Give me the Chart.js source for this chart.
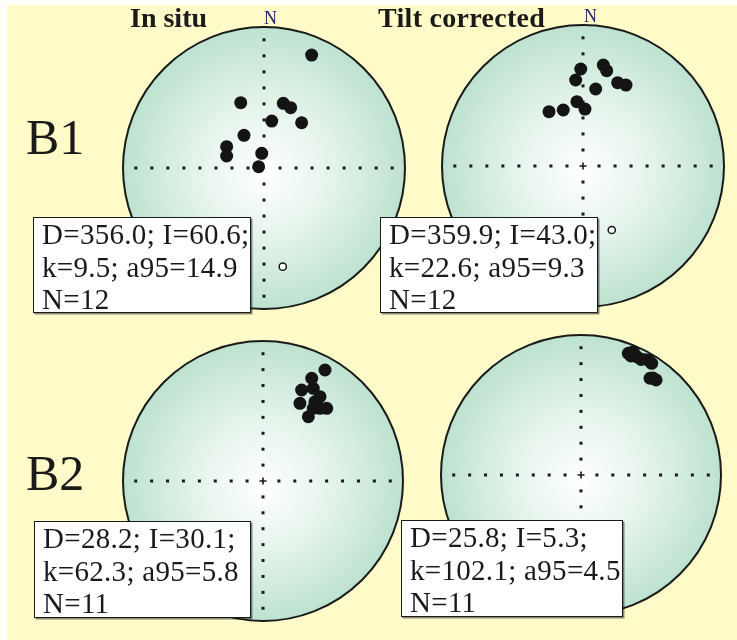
<!DOCTYPE html>
<html>
<head>
<meta charset="utf-8">
<script src="https://cdn.jsdelivr.net/npm/chart.js@4.4.0/dist/chart.umd.min.js"></script>
<style>
  body { margin: 0; width: 737px; height: 640px; background: #fff; position: relative; overflow: hidden; }
  #bg { position: absolute; left: 7px; top: 5px; width: 730px; height: 635px; background: #fffbc9; }
  canvas { position: absolute; }
  .lbl { position: absolute; font-family: "Liberation Serif", "Times New Roman", serif; color: #1a1a1a; white-space: nowrap; }
  .title { font-size: 28px; line-height: 28px; font-weight: bold; }
  .big { font-size: 50px; line-height: 50px; }
  .north { font-size: 18px; line-height: 18px; color: #23236e; }
  .box { position: absolute; box-sizing: border-box; background: #fff; border: 1.5px solid #1a1a1a;
         box-shadow: 1.5px 1.5px 0 rgba(0,0,0,0.45); padding-left: 8px; letter-spacing: 0.3px;
         font-family: "Liberation Serif", "Times New Roman", serif; font-size: 29px; line-height: 32.5px; color: #1a1a1a; white-space: nowrap; }
</style>
</head>
<body>
<div id="bg"></div>
<canvas id="c1" width="298" height="298"></canvas>
<canvas id="c2" width="298" height="298"></canvas>
<canvas id="c3" width="296" height="296"></canvas>
<canvas id="c4" width="296" height="296"></canvas>

<div class="lbl title" style="left:130px;top:4px">In situ</div>
<div class="lbl title" style="left:378px;top:4px;letter-spacing:0.3px">Tilt corrected</div>
<div class="lbl north" style="left:264px;top:9px">N</div>
<div class="lbl north" style="left:584px;top:7px">N</div>
<div class="lbl big" style="left:26px;top:112px">B1</div>
<div class="lbl big" style="left:26px;top:448px">B2</div>

<div class="box" style="left:33px;top:217px;width:218px;height:96px">D=356.0; I=60.6;<br>k=9.5; a95=14.9<br>N=12</div>
<div class="box" style="left:380px;top:217px;width:218px;height:96px">D=359.9; I=43.0;<br>k=22.6; a95=9.3<br>N=12</div>
<div class="box" style="left:34px;top:521px;width:217px;height:97px">D=28.2; I=30.1;<br>k=62.3; a95=5.8<br>N=11</div>
<div class="box" style="left:401px;top:520px;width:222px;height:97px">D=25.8; I=5.3;<br>k=102.1; a95=4.5<br>N=11</div>

<script>
// stereonet positions, x/y in units of the net radius (N up, E right)
const b1InSituDown = [[0.338, 0.801], [-0.165, 0.463], [0.137, 0.459], [0.189, 0.428], [0.055, 0.333], [0.267, 0.321],
  [-0.142, 0.232], [-0.265, 0.151], [-0.265, 0.085], [-0.016, 0.104], [-0.038, 0.009]];
const b1InSituUp = [[0.133, -0.700]];
const b1TiltDown = [[-0.016, 0.688], [0.144, 0.716], [0.168, 0.676], [-0.052, 0.610], [0.090, 0.546], [0.246, 0.591],
  [0.305, 0.574], [-0.043, 0.456], [0.014, 0.404], [-0.241, 0.385], [-0.140, 0.397]];
const b1TiltUp = [[0.204, -0.454]];
const b2InSituDown = [[0.443, 0.793], [0.348, 0.734], [0.276, 0.650], [0.359, 0.662], [0.264, 0.555], [0.371, 0.566],
  [0.407, 0.602], [0.455, 0.519], [0.324, 0.459], [0.359, 0.519], [0.407, 0.519]];
const b2InSituUp = [];
const b2TiltDown = [[0.338, 0.869], [0.374, 0.881], [0.398, 0.845], [0.481, 0.821], [0.505, 0.798], [0.493, 0.691],
  [0.536, 0.679], [0.357, 0.850], [0.429, 0.825], [0.514, 0.693]];
const b2TiltUp = [[0.457, 0.838]];

const pad = 8;
const nets = [
  { id: "c1", cx: 264, cy: 168, r: 141, down: b1InSituDown, up: b1InSituUp, cross: false },
  { id: "c2", cx: 583, cy: 166, r: 141, down: b1TiltDown, up: b1TiltUp, cross: true },
  { id: "c3", cx: 263, cy: 481, r: 140, down: b2InSituDown, up: b2InSituUp, cross: true },
  { id: "c4", cx: 581, cy: 475, r: 140, down: b2TiltDown, up: b2TiltUp, cross: true },
];

const netPlugin = {
  id: "net",
  beforeDatasetsDraw(chart, args, opts) {
    const ctx = chart.ctx;
    const xs = chart.scales.x, ys = chart.scales.y;
    const x0 = xs.getPixelForValue(0), y0 = ys.getPixelForValue(0);
    const rad = xs.getPixelForValue(1) - x0;
    ctx.save();
    const g = ctx.createRadialGradient(x0, y0 + rad * 0.05, 0, x0, y0, rad);
    g.addColorStop(0, "#ffffff");
    g.addColorStop(0.5, "#e3f3ea");
    g.addColorStop(1, "#bde2d0");
    ctx.beginPath();
    ctx.arc(x0, y0, rad, 0, Math.PI * 2);
    ctx.fillStyle = g;
    ctx.fill();
    // dotted axes
    ctx.fillStyle = "#1a1a1a";
    for (let k = -8; k <= 8; k++) {
      if (k === 0) continue;
      const px = xs.getPixelForValue(k / 8.8);
      const py = ys.getPixelForValue(k / 8.8);
      ctx.fillRect(px - 1.5, y0 - 1.5, 3, 3);
      ctx.fillRect(x0 - 1.5, py - 1.5, 3, 3);
    }
    if (opts.cross) {
      ctx.lineWidth = 1.6;
      ctx.strokeStyle = "#1a1a1a";
      ctx.beginPath();
      ctx.moveTo(x0 - 3.5, y0); ctx.lineTo(x0 + 3.5, y0);
      ctx.moveTo(x0, y0 - 3.5); ctx.lineTo(x0, y0 + 3.5);
      ctx.stroke();
    }
    ctx.beginPath();
    ctx.arc(x0, y0, rad, 0, Math.PI * 2);
    ctx.lineWidth = 2;
    ctx.strokeStyle = "#1a1a1a";
    ctx.stroke();
    ctx.restore();
  },
};

function toPts(arr) {
  return arr.map((p) => ({ x: p[0], y: p[1] }));
}

nets.forEach((n) => {
  const cv = document.getElementById(n.id);
  cv.style.left = n.cx - n.r - pad + "px";
  cv.style.top = n.cy - n.r - pad + "px";
  new Chart(cv.getContext("2d"), {
    type: "scatter",
    data: {
      datasets: [
        { data: toPts(n.down), pointRadius: 6.5, backgroundColor: "#141414", borderWidth: 0, clip: false },
        { data: toPts(n.up), pointRadius: 3.6, backgroundColor: "#ffffff", borderColor: "#141414", borderWidth: 1.5, clip: false },
      ],
    },
    options: {
      responsive: false,
      animation: false,
      layout: { padding: pad },
      plugins: { legend: { display: false }, tooltip: { enabled: false }, net: { cross: n.cross } },
      scales: {
        x: { type: "linear", min: -1, max: 1, display: false },
        y: { type: "linear", min: -1, max: 1, display: false },
      },
      events: [],
    },
    plugins: [netPlugin],
  });
});
</script>
</body>
</html>
